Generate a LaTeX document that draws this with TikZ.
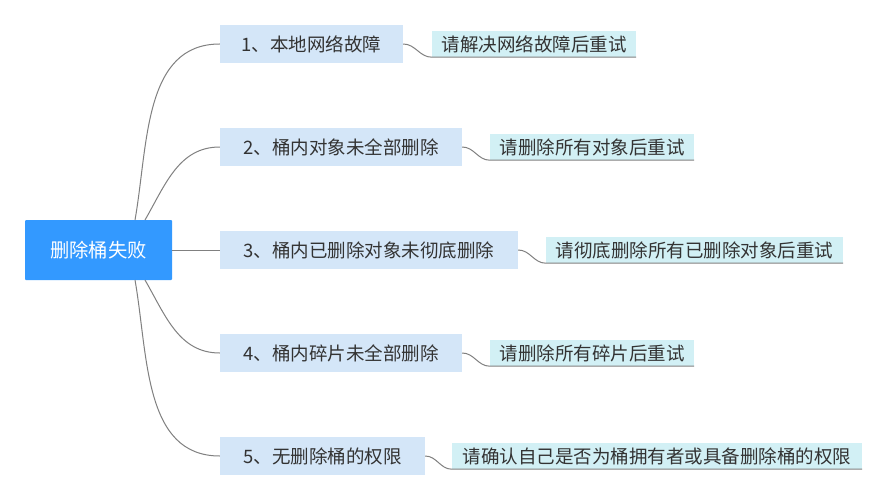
\documentclass[tikz,border=0pt]{standalone}
\usepackage{fontspec}
\setmainfont{Noto Sans CJK SC}
\definecolor{rootblue}{RGB}{51,153,255}
\definecolor{causeblue}{RGB}{212,230,248}
\definecolor{fixcyan}{RGB}{210,240,245}
\definecolor{linegray}{RGB}{128,128,128}
\definecolor{textgray}{RGB}{51,51,51}
\tikzstyle{rootbox}=[fill=rootblue,text=white,minimum width=147pt,minimum height=60pt,inner sep=0pt,rounded corners=1pt,font=\fontsize{19.3}{21}\selectfont]
\tikzstyle{causebox}=[fill=causeblue,text=textgray,minimum height=38pt,inner sep=0pt,font=\fontsize{18.5}{21}\selectfont]
\tikzstyle{fixbox}=[fill=fixcyan,text=textgray,minimum height=26pt,inner sep=0pt,font=\fontsize{18.5}{21}\selectfont]
\tikzstyle{link}=[draw=linegray,line width=1pt]

\begin{document}
\begin{tikzpicture}[x=1pt,y=-1pt]
    \useasboundingbox[fill=white] (0,0) rectangle (886,500);
    \node[rootbox] (root) at (98.5,250) {删除桶失败};

    \node[causebox,minimum width=183pt] (c1) at (311.5,44)  {1、本地网络故障};
    \node[causebox,minimum width=242pt] (c2) at (341,147)   {2、桶内对象未全部删除};
    \node[causebox,minimum width=298pt] (c3) at (369,250)   {3、桶内已删除对象未彻底删除};
    \node[causebox,minimum width=242pt] (c4) at (341,353)   {4、桶内碎片未全部删除};
    \node[causebox,minimum width=205pt] (c5) at (322.5,456) {5、无删除桶的权限};

    \node[fixbox,minimum width=204pt] (d1) at (534,44)   {请解决网络故障后重试};
    \node[fixbox,minimum width=204pt] (d2) at (592,147)  {请删除所有对象后重试};
    \node[fixbox,minimum width=297pt] (d3) at (694.5,250) {请彻底删除所有已删除对象后重试};
    \node[fixbox,minimum width=204pt] (d4) at (592,353)  {请删除所有碎片后重试};
    \node[fixbox,minimum width=410pt] (d5) at (657,456)  {请确认自己是否为桶拥有者或具备删除桶的权限};

    \coordinate (r1) at (135,220);
    \coordinate (r2) at (145,220);
    \coordinate (r4) at (145,280);
    \coordinate (r5) at (135,280);

    \draw[link] (r1) to[out=80,in=180] (c1.west);
    \draw[link] (r2) to[out=60,in=180] (c2.west);
    \draw[link] (root.east) -- (c3.west);
    \draw[link] (r4) to[out=-60,in=180] (c4.west);
    \draw[link] (r5) to[out=-80,in=180] (c5.west);

    \foreach \from/\to in {c1/d1,c2/d2,c3/d3,c4/d4,c5/d5}
    \draw[link] (\from.east) to[out=0,in=180] (\to.south west) -- (\to.south east);
\end{tikzpicture}
\end{document}
